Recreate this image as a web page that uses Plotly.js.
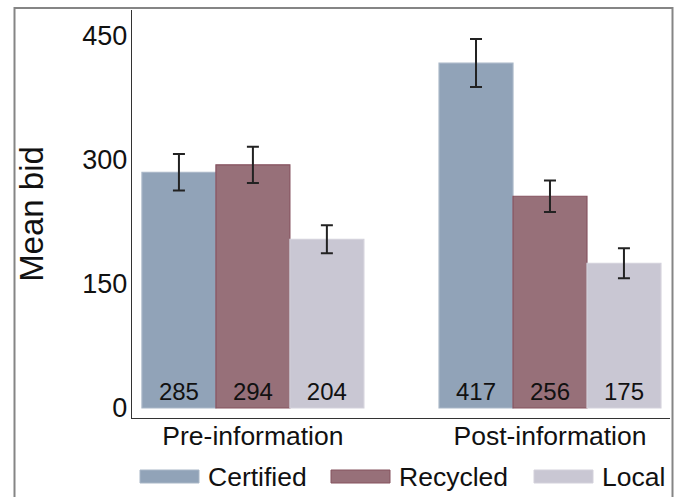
<!DOCTYPE html>
<html>
<head>
<meta charset="utf-8">
<script src="https://cdn.plot.ly/plotly-3.0.1.min.js"></script>
<style>html,body{margin:0;padding:0;background:#fff;}#chart{width:678px;height:497px;}</style>
</head>
<body>
<div id="chart"></div>
<script>
// ---- data ----
const categories = ['Pre-information', 'Post-information'];
const seriesNames = ['Certified', 'Recycled', 'Local'];
const certifiedMeans = [285, 417];
const recycledMeans = [294, 256];
const localMeans = [204, 175];
const certifiedErr = [22, 29];
const recycledErr = [22, 19];
const localErr = [17, 18];
const yTicks = [0, 150, 300, 450];

// ---- styles ----
const fills = ['#91a3b8', '#977079', '#c9c7d3'];
const outlines = ['#a9b7c7', '#85525f', '#d3d1db'];
const FONT = '"Liberation Sans", Arial, Helvetica, sans-serif';

const W = 678, H = 497;
const M = {l: 132, r: 8, t: 10, b: 79};
const pw = W - M.l - M.r, ph = H - M.t - M.b;
const px = x => (x - M.l) / pw;
const py = y => (H - M.b - y) / ph;

const means = [certifiedMeans, recycledMeans, localMeans];
const errs = [certifiedErr, recycledErr, localErr];

const traces = seriesNames.map((name, i) => ({
  type: 'bar',
  name: name,
  x: categories,
  y: means[i],
  text: means[i].map(v => String(v)),
  textposition: 'inside',
  insidetextanchor: 'start',
  textangle: 0,
  constraintext: 'none',
  insidetextfont: {family: FONT, size: 24, color: '#111'},
  marker: {color: fills[i], line: {color: outlines[i], width: 1.2}},
  error_y: {type: 'data', array: errs[i], visible: true, color: '#222', thickness: 2, width: 6},
  showlegend: false,
  hoverinfo: 'skip'
}));

// legend drawn as shapes + annotations
const legendX = [140, 331, 534];
const shapes = [
  {type: 'rect', xref: 'paper', yref: 'paper', x0: px(14.5), x1: px(672.5), y0: py(502), y1: py(8),
   line: {color: '#858585', width: 2}, fillcolor: 'rgba(0,0,0,0)', layer: 'below'}
];
const annotations = [];
seriesNames.forEach((name, i) => {
  shapes.push({type: 'rect', xref: 'paper', yref: 'paper',
    x0: px(legendX[i]), x1: px(legendX[i] + 59), y0: py(483), y1: py(470),
    fillcolor: fills[i], line: {color: outlines[i], width: 1}});
  annotations.push({xref: 'paper', yref: 'paper', x: px(legendX[i] + 66), y: py(477),
    xanchor: 'left', yanchor: 'middle', showarrow: false, text: name,
    font: {family: FONT, size: 26.5, color: '#111'}});
});

const layout = {
  width: W, height: H,
  margin: M,
  paper_bgcolor: '#fff', plot_bgcolor: '#fff',
  font: {family: FONT, color: '#111'},
  barmode: 'group',
  bargap: 0.253,
  bargroupgap: 0,
  showlegend: false,
  xaxis: {
    type: 'category', range: [-0.407, 1.404],
    showline: true, linecolor: '#333', linewidth: 1.2,
    ticks: '', showgrid: false, zeroline: false,
    ticklabelstandoff: -6,
    tickfont: {family: FONT, size: 26.5, color: '#111'}
  },
  yaxis: {
    range: [-12.1, 481.2], tickvals: yTicks, ticktext: yTicks.map(String),
    showline: true, linecolor: '#333', linewidth: 1.2,
    ticks: '', showgrid: false, zeroline: false,
    ticklabelstandoff: -2,
    tickfont: {family: FONT, size: 27, color: '#111'},
    title: {text: 'Mean bid', font: {family: FONT, size: 33, color: '#111'}, standoff: 28}
  },
  shapes: shapes,
  annotations: annotations
};

Plotly.newPlot('chart', traces, layout, {displayModeBar: false, staticPlot: true});
</script>
</body>
</html>
